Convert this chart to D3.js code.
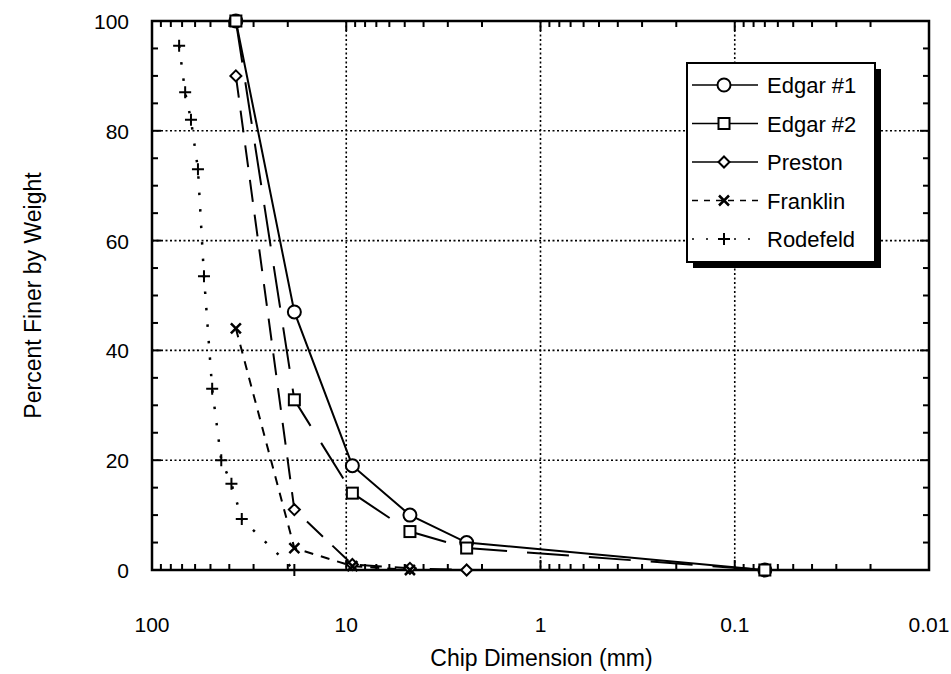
<!DOCTYPE html>
<html lang="en">
<head>
<meta charset="UTF-8">
<script src="https://cdn.jsdelivr.net/npm/d3@7/dist/d3.min.js"></script>
<title>Chip Dimension</title>
<style>
  body { margin: 0; background: #fff; }
  text { font-family: "Liberation Sans", Arial, Helvetica, sans-serif; fill: #000; }
</style>
</head>
<body>
<script>
// data (size in mm, percent finer)
var seriesNames = ["Edgar #1", "Edgar #2", "Preston", "Franklin", "Rodefeld"];
var edgar1Size = [37, 18.5, 9.3, 4.7, 2.4, 0.07];
var edgar1Pct = [100, 47, 19, 10, 5, 0];
var edgar2Size = [37, 18.5, 9.3, 4.7, 2.4, 0.07];
var edgar2Pct = [100, 31, 14, 7, 4, 0];
var prestonSize = [37, 18.5, 9.3, 4.7, 2.4];
var prestonPct = [90, 11, 1, 0.3, 0];
var franklinSize = [37, 18.5, 9.3, 4.7];
var franklinPct = [44, 4, 0.7, 0];
var rodefeldSize = [72.5, 67.5, 63, 58, 54, 49, 44, 39, 34.5, 18.5];
var rodefeldPct = [95.5, 87, 82, 73, 53.5, 33, 20, 15.7, 9.3, 0];
var xTickValues = [100, 10, 1, 0.1, 0.01];
var xTickLabels = ["100", "10", "1", "0.1", "0.01"];
var yTickValues = [0, 20, 40, 60, 80, 100];

var width = 951, height = 674;
var pLeft = 152, pRight = 929, pTop = 21, pBottom = 570;

var svg = d3.select("body").append("svg")
    .attr("width", width)
    .attr("height", height);

var x = d3.scaleLog().domain([100, 0.01]).range([pLeft, pRight]);
var y = d3.scaleLinear().domain([0, 100]).range([pBottom, pTop]);

// dotted grid
var grid = svg.append("g").attr("stroke", "#000").attr("stroke-width", 1.6)
    .attr("stroke-dasharray", "2,2.5");
[10, 1, 0.1].forEach(function (v) {
    grid.append("line").attr("x1", x(v)).attr("x2", x(v)).attr("y1", pTop).attr("y2", pBottom);
});
[20, 40, 60, 80].forEach(function (v) {
    grid.append("line").attr("x1", pLeft).attr("x2", pRight).attr("y1", y(v)).attr("y2", y(v));
});

// tick marks, inward on all four sides
var ticks = svg.append("g").attr("stroke", "#000").attr("stroke-width", 2);
var minorX = [];
[0.01, 0.1, 1, 10].forEach(function (d) {
    for (var m = 2; m <= 9; m++) minorX.push(d * m);
});
minorX.forEach(function (v) {
    ticks.append("line").attr("x1", x(v)).attr("x2", x(v)).attr("y1", pBottom).attr("y2", pBottom - 6);
    ticks.append("line").attr("x1", x(v)).attr("x2", x(v)).attr("y1", pTop).attr("y2", pTop + 6);
});
[10, 1, 0.1].forEach(function (v) {
    ticks.append("line").attr("x1", x(v)).attr("x2", x(v)).attr("y1", pBottom).attr("y2", pBottom - 10);
    ticks.append("line").attr("x1", x(v)).attr("x2", x(v)).attr("y1", pTop).attr("y2", pTop + 10);
});
d3.range(5, 100, 5).forEach(function (v) {
    var len = v % 20 === 0 ? 9 : 6;
    ticks.append("line").attr("x1", pLeft).attr("x2", pLeft + len).attr("y1", y(v)).attr("y2", y(v));
    ticks.append("line").attr("x1", pRight).attr("x2", pRight - len).attr("y1", y(v)).attr("y2", y(v));
});

// frame
svg.append("rect")
    .attr("x", pLeft).attr("y", pTop)
    .attr("width", pRight - pLeft).attr("height", pBottom - pTop)
    .attr("fill", "none").attr("stroke", "#000").attr("stroke-width", 2.5);

// tick labels
svg.selectAll(".ylab").data(yTickValues).enter().append("text")
    .attr("class", "ylab")
    .attr("x", 129).attr("y", function (d) { return y(d) + 8; })
    .attr("text-anchor", "end").attr("font-size", 21)
    .text(function (d) { return d; });
svg.selectAll(".xlab").data(xTickValues).enter().append("text")
    .attr("class", "xlab")
    .attr("x", function (d) { return x(d); }).attr("y", 632)
    .attr("text-anchor", "middle").attr("font-size", 21)
    .text(function (d, i) { return xTickLabels[i]; });

// axis titles
svg.append("text")
    .attr("x", (pLeft + pRight) / 2 + 1).attr("y", 666)
    .attr("text-anchor", "middle").attr("font-size", 23)
    .text("Chip Dimension (mm)");
svg.append("text")
    .attr("transform", "translate(41," + ((pTop + pBottom) / 2) + ") rotate(-90)")
    .attr("text-anchor", "middle").attr("font-size", 23)
    .text("Percent Finer by Weight");

// series
var series = [
    { name: seriesNames[0], size: edgar1Size, pct: edgar1Pct, dash: null, mark: "circle" },
    { name: seriesNames[1], size: edgar2Size, pct: edgar2Pct, dash: "42,20", mark: "square" },
    { name: seriesNames[2], size: prestonSize, pct: prestonPct, dash: "22,13", mark: "diamond" },
    { name: seriesNames[3], size: franklinSize, pct: franklinPct, dash: "9,8", mark: "cross" },
    { name: seriesNames[4], size: rodefeldSize, pct: rodefeldPct, dash: "2.5,14", mark: "plus" }
];

var line = d3.line()
    .x(function (d) { return x(d[0]); })
    .y(function (d) { return y(d[1]); });

function drawMark(g, type, cx, cy) {
    if (type === "circle") {
        g.append("circle").attr("cx", cx).attr("cy", cy).attr("r", 6.5)
            .attr("fill", "#fff").attr("stroke", "#000").attr("stroke-width", 2);
    } else if (type === "square") {
        g.append("rect").attr("x", cx - 5.5).attr("y", cy - 5.5).attr("width", 11).attr("height", 11)
            .attr("fill", "#fff").attr("stroke", "#000").attr("stroke-width", 2);
    } else if (type === "diamond") {
        g.append("path").attr("d", "M" + cx + "," + (cy - 5.5) + "L" + (cx + 5.5) + "," + cy +
            "L" + cx + "," + (cy + 5.5) + "L" + (cx - 5.5) + "," + cy + "Z")
            .attr("fill", "#fff").attr("stroke", "#000").attr("stroke-width", 2);
    } else if (type === "cross") {
        g.append("path").attr("d", "M" + (cx - 5) + "," + (cy - 5) + "L" + (cx + 5) + "," + (cy + 5) +
            "M" + (cx + 5) + "," + (cy - 5) + "L" + (cx - 5) + "," + (cy + 5))
            .attr("stroke", "#000").attr("stroke-width", 2.5);
    } else {
        g.append("path").attr("d", "M" + (cx - 6) + "," + cy + "L" + (cx + 6) + "," + cy +
            "M" + cx + "," + (cy - 6) + "L" + cx + "," + (cy + 6))
            .attr("stroke", "#000").attr("stroke-width", 2);
    }
}

var plot = svg.append("g");
series.forEach(function (s) {
    var pts = s.size.map(function (v, i) { return [v, s.pct[i]]; });
    plot.append("path")
        .attr("d", line(pts))
        .attr("fill", "none").attr("stroke", "#000")
        .attr("stroke-width", s.mark === "plus" ? 2.5 : 2)
        .attr("stroke-dasharray", s.dash);
});
series.forEach(function (s) {
    s.size.forEach(function (v, i) {
        drawMark(plot, s.mark, x(v), y(s.pct[i]));
    });
});

// legend
var lgX = 687, lgY = 63, lgW = 188, lgH = 199;
var legend = svg.append("g");
legend.append("rect").attr("x", lgX + 6).attr("y", lgY + 6).attr("width", lgW).attr("height", lgH)
    .attr("fill", "#000");
legend.append("rect").attr("x", lgX).attr("y", lgY).attr("width", lgW).attr("height", lgH)
    .attr("fill", "#fff").attr("stroke", "#000").attr("stroke-width", 2);
var legendDash = [null, null, null, "6,6", "2,12"];
series.forEach(function (s, i) {
    var cy = 85 + i * 38.5;
    legend.append("line").attr("x1", 692).attr("x2", 758).attr("y1", cy).attr("y2", cy)
        .attr("stroke", "#000").attr("stroke-width", 1.5)
        .attr("stroke-dasharray", legendDash[i]);
    drawMark(legend, s.mark, 724, cy);
    legend.append("text").attr("x", 767).attr("y", cy + 8)
        .attr("font-size", 22).text(s.name);
});
</script>
</body>
</html>
